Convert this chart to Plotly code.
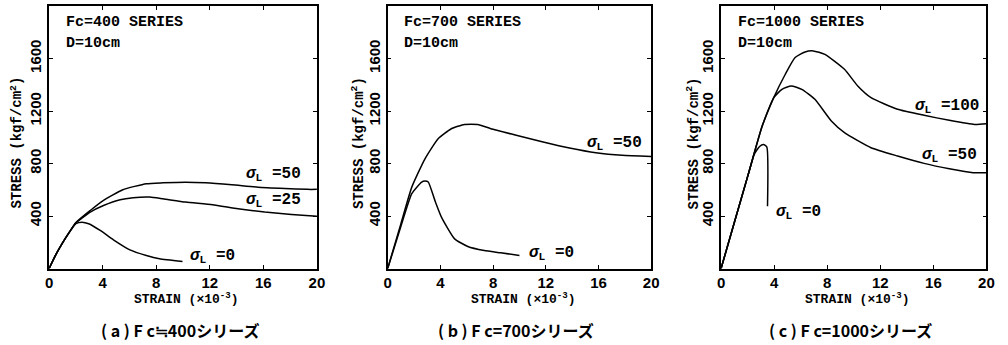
import plotly.graph_objects as go

# ---------------- data (strain x10^-3, stress kgf/cm2) ----------------
a50_x = [0, 0.5, 1.0, 1.5, 2.0, 3.07, 4.06, 5.5, 7.26, 8.5, 10.2, 11.7, 13.65, 15.6, 17.6, 19.3, 20]
a50_y = [0, 105, 195, 275, 350, 442, 519, 600, 646, 653, 658, 653, 638, 620, 610, 603, 603]
a25_x = [0, 0.5, 1.0, 1.5, 2.0, 3.07, 4.06, 5.3, 6.27, 7.5, 8.5, 10.2, 12.2, 14.1, 16.1, 18.1, 20]
a25_y = [0, 105, 195, 275, 348, 430, 480, 524, 539, 544, 531, 506, 486, 455, 430, 412, 399]
a0_x = [0, 0.5, 1.0, 1.5, 2.0, 2.46, 2.95, 3.81, 4.8, 6.03, 7.26, 8.24, 9.96]
a0_y = [0, 105, 195, 275, 342, 353, 341, 290, 219, 142, 99, 74, 53]

b50_x = [0, 1.0, 1.83, 2.83, 3.83, 4.83, 5.83, 6.83, 7.83, 9.83, 11.8, 13.8, 15.8, 17.8, 20]
b50_y = [0, 340, 620, 836, 989, 1065, 1098, 1098, 1065, 1014, 964, 918, 882, 862, 854]
b0_x = [0, 1.0, 1.83, 2.58, 2.83, 3.08, 3.58, 4.08, 5.08, 6.08, 7.33, 8.58, 10.0]
b0_y = [0, 320, 570, 659, 666, 659, 519, 392, 226, 168, 137, 120, 99]

c100_x = [0, 1, 2, 3.1, 3.97, 4.84, 5.58, 6.33, 6.95, 7.82, 9.3, 10.3, 11.3, 13.3, 15.3, 17.2, 19.1, 20]
c100_y = [0, 350, 700, 1085, 1302, 1480, 1607, 1650, 1658, 1632, 1518, 1391, 1302, 1213, 1167, 1129, 1098, 1103]
c50_x = [0, 1, 2, 3.1, 3.97, 4.59, 5.29, 6.08, 7.07, 8.31, 9.3, 11.3, 13.3, 15.3, 17.2, 19.0, 20]
c50_y = [0, 350, 700, 1085, 1302, 1365, 1391, 1365, 1289, 1124, 1035, 920, 857, 801, 760, 730, 730]
c0_x = [0, 1, 2, 2.5, 2.9, 3.2, 3.45, 3.5]
c0_y = [0, 350, 700, 870, 930, 945, 925, 475]

x_ticks = [0, 4, 8, 12, 16, 20]
y_ticks = [400, 800, 1200, 1600]

series_titles = ["Fc=400 SERIES", "Fc=700 SERIES", "Fc=1000 SERIES"]
captions = ["( a ) F c≒400シリーズ", "( b ) F c=700シリーズ", "( c ) F c=1000シリーズ"]

# curve labels: (panel, text, x, y)
curve_labels = [
    (1, "=50", 14.56, 717), (1, "=25", 14.56, 519), (1, "=0", 10.35, 92),
    (2, "=50", 14.97, 953), (2, "=0", 10.6, 114),
    (3, "=100", 14.46, 1236), (3, "=50", 15.0, 862), (3, "=0", 3.97, 427),
]

# ---------------- figure ----------------
W, H = 1008, 345
fig = go.Figure()

panels = [
    [(a50_x, a50_y), (a25_x, a25_y), (a0_x, a0_y)],
    [(b50_x, b50_y), (b0_x, b0_y)],
    [(c100_x, c100_y), (c50_x, c50_y), (c0_x, c0_y)],
]
for i, curves in enumerate(panels):
    xa = "x" if i == 0 else f"x{i+1}"
    ya = "y" if i == 0 else f"y{i+1}"
    for cx, cy in curves:
        fig.add_trace(go.Scatter(x=cx, y=cy, xaxis=xa, yaxis=ya, mode="lines",
                                 line=dict(color="black", width=1.5, shape="spline", smoothing=0.5),
                                 showlegend=False, hoverinfo="skip"))

left_px = [45.7, 388.3, 725.7]
right_px = [316.7, 655.0, 994.3]
top_px, bot_px = 6, 268.5

tick_font = dict(family="Liberation Sans", size=15, color="black", weight="bold")
mono = "Liberation Mono"

layout = dict(width=W, height=H, margin=dict(l=0, r=0, t=0, b=0),
              paper_bgcolor="white", plot_bgcolor="white", showlegend=False)
annotations = []
for i in range(3):
    sx = "" if i == 0 else str(i + 1)
    dom_x = [left_px[i] / W, right_px[i] / W]
    dom_y = [1 - bot_px / H, 1 - top_px / H]
    layout["xaxis" + sx] = dict(domain=dom_x, range=[0, 20], tickvals=x_ticks,
                                 ticks="inside", ticklen=4, tickwidth=1, tickcolor="black",
                                 showline=True, linecolor="black", linewidth=1.5, mirror="ticks",
                                 showgrid=False, zeroline=False, tickfont=tick_font,
                                 anchor="y" + sx, fixedrange=True)
    layout["yaxis" + sx] = dict(domain=dom_y, range=[0, 2000], tickvals=y_ticks,
                                 ticks="inside", ticklen=4, tickwidth=1, tickcolor="black",
                                 showline=True, linecolor="black", linewidth=1.5, mirror="ticks",
                                 showgrid=False, zeroline=False, tickfont=tick_font, tickangle=-90,
                                 anchor="x" + sx, fixedrange=True)
    # series title and D
    annotations.append(dict(text=series_titles[i], xref="paper", yref="paper",
                            x=(left_px[i] + 15) / W, y=1 - 23 / H, xanchor="left", yanchor="middle",
                            showarrow=False, font=dict(family=mono, size=15, color="black", weight="bold")))
    annotations.append(dict(text="D=10cm", xref="paper", yref="paper",
                            x=(left_px[i] + 15) / W, y=1 - 43 / H, xanchor="left", yanchor="middle",
                            showarrow=False, font=dict(family=mono, size=15, color="black", weight="bold")))
    # x-axis title
    cx = (left_px[i] + right_px[i]) / 2
    annotations.append(dict(text="STRAIN (×10<sup>-3</sup>)", xref="paper", yref="paper",
                            x=(cx + 4) / W, y=1 - 298 / H, xanchor="center", yanchor="middle",
                            showarrow=False, font=dict(family=mono, size=13, color="black", weight="bold")))
    # y-axis title
    yoff = [33, 30, 28][i]
    annotations.append(dict(text="STRESS (kgf/cm<sup>2</sup>)", xref="paper", yref="paper",
                            x=(left_px[i] - yoff) / W, y=1 - 143 / H, xanchor="center", yanchor="middle",
                            textangle=-90, showarrow=False,
                            font=dict(family=mono, size=14, color="black", weight="bold")))
    # caption
    annotations.append(dict(text=captions[i], xref="paper", yref="paper",
                            x=(cx - 3) / W, y=1 - 330 / H, xanchor="center", yanchor="middle",
                            showarrow=False, font=dict(family="Noto Sans CJK JP", size=16, color="black", weight="bold")))

for p, txt, lx, ly in curve_labels:
    sx = "" if p == 1 else str(p)
    annotations.append(dict(text="<i>σ</i><sub>L</sub> " + txt, xref="x" + sx, yref="y" + sx,
                            x=lx, y=ly, xanchor="left", yanchor="middle", showarrow=False,
                            font=dict(family=mono, size=16, color="black", weight="bold")))

layout["annotations"] = annotations
fig.update_layout(**layout)
fig.write_html("out.html")
